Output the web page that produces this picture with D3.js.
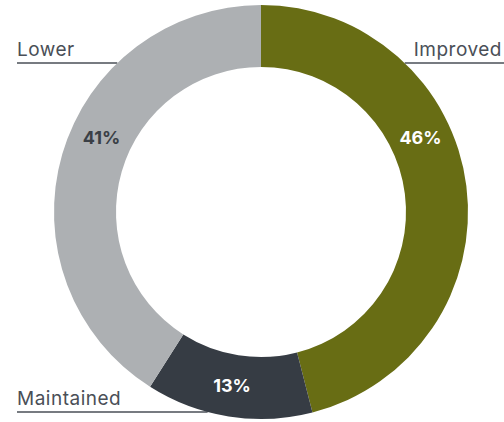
<!DOCTYPE html>
<html>
<head>
<meta charset="utf-8">
<script src="https://cdn.jsdelivr.net/npm/d3@7"></script>
<style>
  html, body { margin: 0; padding: 0; background: #ffffff; }
  svg { display: block; }
</style>
</head>
<body>
<svg id="chart" width="504" height="422"></svg>
<script>
// Outcome shares, clockwise from 12 o'clock
const categories = ["Improved", "Maintained", "Lower"];
const shares = [46, 13, 41];
const valueLabels = ["46%", "13%", "41%"];

// Styling
const sliceColors = ["#686d14", "#363c44", "#adb0b3"];
const valueColors = ["#ffffff", "#ffffff", "#3a3f46"];
const inkColor = "#4a4f57";

const width = 504, height = 422;
const cx = 261, cy = 212;
const outerR = 207, innerR = 145;
const labelR = (outerR + innerR) / 2;

// Angle (radians, clockwise from top) at which each value label sits
const labelAngles = [65, 189.5, -65].map(d => d * Math.PI / 180);

// Callout rows: y of the rule, text side
const callouts = [
  { y: 63, side: "right" },
  { y: 412, side: "left" },
  { y: 63, side: "left" }
];

const svg = d3.select("#chart");
const fontFamily = "Inter, 'Noto Sans', sans-serif";

const pie = d3.pie().value(d => d).sort(null);
const arcs = pie(shares);
const arc = d3.arc().innerRadius(innerR).outerRadius(outerR);

// Callout rules run from the page edge to the ring
const rules = svg.append("g").attr("stroke", inkColor).attr("stroke-width", 1.3);
callouts.forEach(c => {
  const dy = c.y - cy;
  const dx = Math.sqrt(Math.max(0, outerR * outerR - dy * dy));
  const x1 = c.side === "left" ? 17 : width;
  const x2 = c.side === "left" ? cx - dx : cx + dx;
  rules.append("line")
    .attr("x1", x1).attr("x2", x2)
    .attr("y1", c.y).attr("y2", c.y);
});

// Ring
const ring = svg.append("g").attr("transform", `translate(${cx},${cy})`);
ring.selectAll("path")
  .data(arcs)
  .join("path")
  .attr("d", arc)
  .attr("fill", (d, i) => sliceColors[i]);

// Value labels inside the ring
ring.selectAll("text.value")
  .data(arcs)
  .join("text")
  .attr("class", "value")
  .attr("x", (d, i) => labelR * Math.sin(labelAngles[i]))
  .attr("y", (d, i) => -labelR * Math.cos(labelAngles[i]))
  .attr("text-anchor", "middle")
  .attr("dominant-baseline", "central")
  .attr("font-family", fontFamily)
  .attr("font-weight", 700)
  .attr("font-size", 18)
  .attr("fill", (d, i) => valueColors[i])
  .text((d, i) => valueLabels[i]);

// Category names above the callout rules
svg.append("g").selectAll("text")
  .data(categories)
  .join("text")
  .attr("x", (d, i) => callouts[i].side === "left" ? 17 : 502)
  .attr("y", (d, i) => callouts[i].y - 7)
  .attr("text-anchor", (d, i) => callouts[i].side === "left" ? "start" : "end")
  .attr("font-family", fontFamily)
  .attr("font-size", 19)
  .attr("letter-spacing", 0.5)
  .attr("fill", inkColor)
  .text(d => d);
</script>
</body>
</html>
